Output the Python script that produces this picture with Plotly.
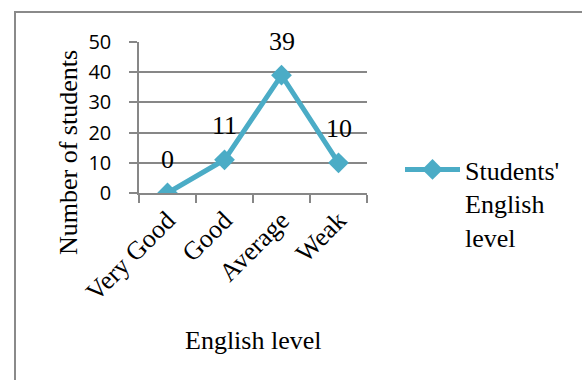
import plotly.graph_objects as go

categories = ["Very Good", "Good", "Average", "Weak"]
students = [0, 11, 39, 10]
series_name = "Students'<br>English<br>level"
y_ticks = [0, 10, 20, 30, 40, 50]

W, H = 582, 380
L, R, T, B = 139, 367, 42, 193  # plot area in pixels
serif = "Liberation Serif"
color = "#4BACC6"
grid = "#878787"

def px(x):
    return (x - L) / (R - L)

def py(y):
    return (B - y) / (B - T)

fig = go.Figure()
fig.add_trace(go.Scatter(
    x=categories, y=students, mode="lines+markers", name=series_name,
    line=dict(color=color, width=5),
    marker=dict(symbol="diamond", size=16, color=color),
))

for c, v in zip(categories, students):
    fig.add_annotation(x=c, y=v, text=str(v), showarrow=False, yanchor="middle",
                       yshift=34, font=dict(family=serif, size=26, color="black"))

# axis titles
fig.add_annotation(xref="paper", yref="paper", x=px(253), y=py(340), text="English level",
                   showarrow=False, xanchor="center", yanchor="middle",
                   font=dict(family=serif, size=26, color="black"))
fig.add_annotation(xref="paper", yref="paper", x=px(68), y=py(153), text="Number of students",
                   textangle=-90, showarrow=False, xanchor="center", yanchor="middle",
                   font=dict(family=serif, size=26, color="black"))

# outer chart border
fig.add_shape(type="rect", xref="paper", yref="paper",
              x0=px(15), y0=py(395), x1=px(600), y1=py(12),
              line=dict(color="#8a8a8a", width=2), layer="below")

fig.update_layout(
    width=W, height=H,
    margin=dict(l=L, r=W - R, t=T, b=H - B, pad=0),
    plot_bgcolor="white", paper_bgcolor="white",
    showlegend=True,
    legend=dict(x=px(400), y=py(146), xanchor="left", yanchor="top",
                valign="top", itemwidth=55,
                font=dict(family=serif, size=26, color="black"),
                bgcolor="rgba(0,0,0,0)", borderwidth=0),
    xaxis=dict(type="category", range=[-0.5, 3.5], showgrid=False,
               showline=True, linecolor=grid, linewidth=1.5,
               ticks="outside", tickson="boundaries", ticklen=8, tickcolor=grid, tickwidth=1.5,
               tickangle=-45, tickfont=dict(family=serif, size=26, color="black")),
    yaxis=dict(range=[0, 50], tickvals=y_ticks, showgrid=True, gridcolor=grid, gridwidth=1.5,
               showline=True, linecolor=grid, linewidth=1.5, zeroline=False,
               ticks="outside", ticklen=8, tickcolor=grid, tickwidth=1.5,
               ticklabelstandoff=14,
               tickfont=dict(family="Open Sans", size=20, color="black")),
)

fig.write_html("out.html")
